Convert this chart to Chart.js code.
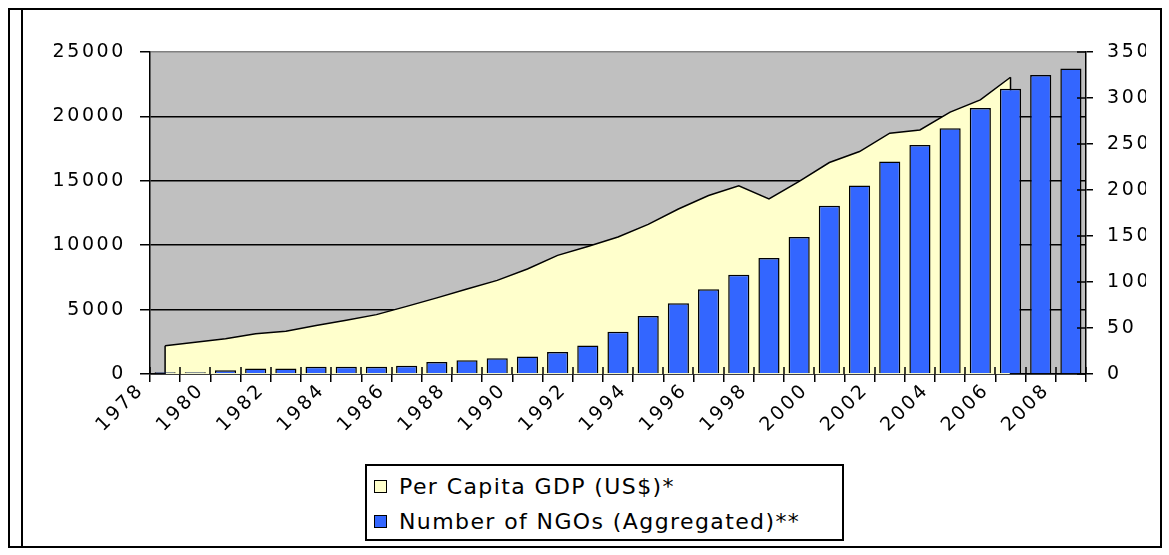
<!DOCTYPE html>
<html>
<head>
<meta charset="utf-8">
<script src="https://cdn.jsdelivr.net/npm/chart.js@4.4.1/dist/chart.umd.min.js"></script>
<style>
  html, body { margin: 0; padding: 0; background: #fff; }
  #wrap { position: relative; width: 1169px; height: 555px; overflow: hidden; background: #fff; }
  #chart { position: absolute; left: 0; top: 0; }
  .rule { position: absolute; background: #000; }
  #legend {
    position: absolute; left: 365px; top: 464px; width: 479px; height: 77px;
    border: 2px solid #000; box-sizing: border-box; background: #fff;
    font-family: 'DejaVu Sans', sans-serif; font-size: 22px; letter-spacing: 1.4px; color: #000;
  }
  .item { position: absolute; left: 7px; height: 30px; line-height: 30px; white-space: nowrap; }
  .swatch { display: inline-block; width: 11px; height: 11px; border: 1px solid #000; vertical-align: middle; margin-right: 12px; position: relative; top: -2px; }
</style>
</head>
<body>
<div id="wrap">
  <canvas id="chart" width="1169" height="555"></canvas>
  <div class="rule" style="left:8px;top:8px;width:2px;height:540px;"></div>
  <div class="rule" style="left:21px;top:8px;width:2px;height:540px;"></div>
  <div class="rule" style="left:8px;top:8px;width:1154px;height:2px;"></div>
  <div class="rule" style="left:8px;top:546px;width:1154px;height:2px;"></div>
  <div class="rule" style="left:1160px;top:8px;width:2px;height:540px;"></div>
  <div id="legend"></div>
</div>
<script>
// Years on the category axis
const years = ['1978','1979','1980','1981','1982','1983','1984','1985','1986','1987',
  '1988','1989','1990','1991','1992','1993','1994','1995','1996','1997',
  '1998','1999','2000','2001','2002','2003','2004','2005','2006','2007','2008'];

// Per capita GDP in US$, 1978-2006
const gdpPerCapita = [2200, 2470, 2730, 3120, 3320, 3760, 4170, 4610, 5250, 5910,
  6600, 7270, 8150, 9210, 9900, 10640, 11620, 12810, 13860, 14610,
  13600, 14950, 16420, 17270, 18700, 18950, 20330, 21280, 23040];

// Aggregated number of NGOs, 1978-2008
const ngoCount = [2, 2, 4, 6, 6, 8, 8, 8, 9, 13,
  15, 17, 19, 24, 31, 46, 63, 77, 92, 108,
  126, 149, 183, 205, 231, 249, 267, 289, 310, 325, 332];

// Axis tick values
const gdpTicks = [0, 5000, 10000, 15000, 20000, 25000];
const ngoTicks = [0, 50, 100, 150, 200, 250, 300, 350];

const seriesNames = ['Per Capita GDP (US$)*', 'Number of NGOs (Aggregated)**'];
const seriesColors = ['#FFFFCC', '#3366FF'];

const TEXT_SPACING = '2.6px';

// Letter spacing for all canvas text (wide Verdana-like look)
const spacedText = {
  id: 'spacedText',
  beforeUpdate(chart) { chart.ctx.letterSpacing = TEXT_SPACING; },
  beforeDraw(chart) { chart.ctx.letterSpacing = TEXT_SPACING; }
};

// Grey plot-area background
const plotBackground = {
  id: 'plotBackground',
  beforeDraw(chart) {
    const { ctx, chartArea: a } = chart;
    ctx.save();
    ctx.fillStyle = '#C0C0C0';
    ctx.fillRect(a.left, a.top, a.right - a.left, a.bottom - a.top);
    ctx.restore();
  }
};

// Close the GDP area with vertical edges at its first and last points
const areaEdges = {
  id: 'areaEdges',
  afterDatasetDraw(chart, args) {
    if (args.index !== 0) return;
    const pts = args.meta.data;
    if (!pts.length) return;
    const base = chart.scales.y.getPixelForValue(0);
    const ctx = chart.ctx;
    ctx.save();
    ctx.strokeStyle = '#000';
    ctx.lineWidth = 1.5;
    ctx.beginPath();
    [pts[0], pts[pts.length - 1]].forEach(p => {
      ctx.moveTo(p.x, p.y);
      ctx.lineTo(p.x, base);
    });
    ctx.stroke();
    ctx.restore();
  }
};

// Tick marks that cross the axis line (inner half)
const crossTicks = {
  id: 'crossTicks',
  afterDatasetsDraw(chart) {
    const { ctx, scales } = chart;
    const x = scales.x, y1 = scales.y1;
    ctx.save();
    ctx.strokeStyle = '#000';
    ctx.lineWidth = 1.5;
    ctx.beginPath();
    for (let i = 0; i <= years.length; i++) {
      const px = Math.round(x.getPixelForValue(i - 0.5));
      ctx.moveTo(px, x.top);
      ctx.lineTo(px, x.top - 7);
    }
    ngoTicks.forEach(v => {
      const py = y1.getPixelForValue(v);
      ctx.moveTo(y1.left, py);
      ctx.lineTo(y1.left - 9, py);
    });
    ctx.stroke();
    ctx.restore();
  }
};

const tickFont = { family: "'DejaVu Sans', sans-serif", size: 19 };

const chart = new Chart(document.getElementById('chart'), {
  type: 'bar',
  data: {
    labels: years,
    datasets: [
      {
        type: 'line',
        label: seriesNames[0],
        data: gdpPerCapita,
        yAxisID: 'y',
        borderColor: '#000',
        borderWidth: 1.5,
        backgroundColor: seriesColors[0],
        fill: 'origin',
        pointRadius: 0,
        tension: 0,
        order: 2
      },
      {
        type: 'bar',
        label: seriesNames[1],
        data: ngoCount,
        yAxisID: 'y1',
        backgroundColor: seriesColors[1],
        borderColor: '#000',
        borderWidth: 1.5,
        barPercentage: 0.7,
        categoryPercentage: 1.0,
        order: 1
      }
    ]
  },
  options: {
    responsive: false,
    animation: false,
    layout: { padding: { top: 52, left: 0, right: 23, bottom: 0 } },
    plugins: { legend: { display: false }, tooltip: { enabled: false } },
    scales: {
      x: {
        offset: true,
        afterFit(s) { s.height = 181; },
        grid: { offset: true, drawOnChartArea: false, color: '#000', lineWidth: 1.5, tickLength: 8 },
        border: { display: true, color: '#000', width: 1.5 },
        ticks: {
          autoSkip: false, minRotation: 45, maxRotation: 45,
          color: '#000', font: tickFont, padding: -3, labelOffset: -24,
          callback: (v, i) => (i % 2 === 0 ? years[i] : '')
        }
      },
      y: {
        position: 'left',
        min: gdpTicks[0], max: gdpTicks[gdpTicks.length - 1],
        afterFit(s) { s.width = 150; },
        afterBuildTicks(s) { s.ticks = gdpTicks.map(v => ({ value: v })); },
        grid: {
          color: c => (c.tick && c.tick.value === 25000 ? '#808080' : '#000'),
          lineWidth: 1.5, tickLength: 10, tickColor: '#000'
        },
        border: { display: true, color: '#000', width: 1.5 },
        ticks: { color: '#000', font: tickFont, padding: 14, callback: v => String(v) }
      },
      y1: {
        position: 'right',
        min: ngoTicks[0], max: ngoTicks[ngoTicks.length - 1],
        afterFit(s) { s.width = 60; },
        afterBuildTicks(s) { s.ticks = ngoTicks.map(v => ({ value: v })); },
        grid: { drawOnChartArea: false, color: '#000', lineWidth: 1.5, tickLength: 7 },
        border: { display: true, color: '#000', width: 1.5 },
        ticks: { color: '#000', font: tickFont, padding: 14, callback: v => String(v) }
      }
    }
  },
  plugins: [spacedText, plotBackground, areaEdges, crossTicks]
});

// Legend box built from the dataset names and colours
const legend = document.getElementById('legend');
seriesNames.forEach((name, i) => {
  const row = document.createElement('div');
  row.className = 'item';
  row.style.top = (6 + i * 35) + 'px';
  const sw = document.createElement('span');
  sw.className = 'swatch';
  sw.style.background = seriesColors[i];
  row.appendChild(sw);
  row.appendChild(document.createTextNode(name));
  legend.appendChild(row);
});
</script>
</body>
</html>
